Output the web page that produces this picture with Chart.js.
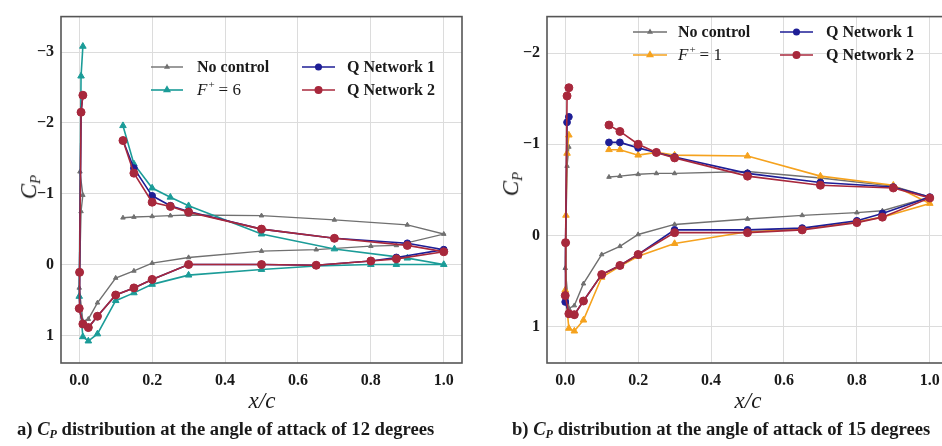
<!DOCTYPE html>
<html>
<head>
<meta charset="utf-8">
<script src="https://cdn.jsdelivr.net/npm/chart.js@4.4.0/dist/chart.umd.min.js"></script>
<style>
  html, body { margin: 0; padding: 0; background: #fff; }
  body { width: 942px; height: 446px; overflow: hidden; position: relative;
         font-family: "Liberation Serif", "DejaVu Serif", serif; color: #1a1a1a; }
  .box { position: absolute; top: 0; height: 446px; }
  #boxA { left: 0; width: 470px; }
  #boxB { left: 470px; width: 486px; }
  .xt { position: absolute; top: 388px; font-style: italic; font-size: 23px; transform: translateX(-50%); white-space: nowrap; }
  .yt { position: absolute; font-style: italic; font-size: 23px; transform: translate(-50%, -50%) rotate(-90deg); white-space: nowrap; }
  .cap { position: absolute; top: 418px; font-weight: bold; font-size: 18.6px; white-space: nowrap; }
  sub { font-size: 65%; vertical-align: -0.25em; }
</style>
</head>
<body>
<div class="box" id="boxA"><canvas id="chartA" width="470" height="446"></canvas></div>
<div class="box" id="boxB"><canvas id="chartB" width="486" height="446"></canvas></div>

<div class="yt" style="left:30px; top:187px;">C<sub>P</sub></div>
<div class="yt" style="left:512px; top:184px;">C<sub>P</sub></div>
<div class="xt" style="left:262px;">x/c</div>
<div class="xt" style="left:748px;">x/c</div>
<div class="cap" style="left:17px;">a) <i>C<sub>P</sub></i> distribution at the angle of attack of 12 degrees</div>
<div class="cap" style="left:512px;">b) <i>C<sub>P</sub></i> distribution at the angle of attack of 15 degrees</div>

<script>
// chordwise stations: upper surface (0.12 -> TE), then lower surface (TE -> LE)
const upperX = [0.12, 0.15, 0.2, 0.25, 0.3, 0.5, 0.7, 0.9, 1.0];
const lowerX = [0.87, 0.8, 0.65, 0.5, 0.3, 0.2, 0.15, 0.1, 0.05, 0.025, 0.01, 0.0];

const xTicks = [0, 0.2, 0.4, 0.6, 0.8, 1.0];
const yTicks12 = [-3, -2, -1, 0, 1];
const yTicks15 = [-2, -1, 0, 1];

const names12 = ['No control', 'F+ = 6', 'Q Network 1', 'Q Network 2'];
const names15 = ['No control', 'F+ = 1', 'Q Network 1', 'Q Network 2'];

// ---- angle of attack 12 deg ----
const noCtrl12X = upperX.concat(lowerX, [0.005, 0.01, 0.002]);
const noCtrl12 = [-0.66, -0.67, -0.68, -0.69, -0.70, -0.69, -0.63, -0.56, -0.43,
                  -0.27, -0.26, -0.21, -0.19, -0.10, -0.02, 0.09, 0.19, 0.54, 0.77, 0.80, 0.33,
                  -0.75, -0.98, -1.31];
const fPlus6X = upperX.concat(lowerX, [0.005, 0.01]);
const fPlus6 = [-1.96, -1.42, -1.08, -0.95, -0.83, -0.43, -0.22, -0.09, 0.0,
                0.0, 0.0, 0.02, 0.07, 0.15, 0.28, 0.40, 0.51, 0.98, 1.08, 1.02, 0.45,
                -2.66, -3.08];
const qNet12X = upperX.concat(lowerX, [0.001, 0.005, 0.01]);
const qNet1_12 = [-1.75, -1.36, -0.97, -0.83, -0.75, -0.50, -0.37, -0.30, -0.21,
                  -0.10, -0.05, 0.01, 0.0, 0.0, 0.21, 0.33, 0.43, 0.73, 0.89, 0.84, 0.62,
                  0.11, -2.15, -2.39];
const qNet2_12 = [-1.75, -1.29, -0.88, -0.82, -0.74, -0.50, -0.37, -0.27, -0.18,
                  -0.08, -0.05, 0.01, 0.0, 0.0, 0.21, 0.33, 0.43, 0.73, 0.89, 0.84, 0.62,
                  0.11, -2.15, -2.39];

// ---- angle of attack 15 deg ----
const noCtrl15X = upperX.concat(lowerX, [0.005, 0.01]);
const noCtrl15 = [-0.64, -0.65, -0.67, -0.68, -0.68, -0.70, -0.63, -0.54, -0.42,
                  -0.27, -0.25, -0.22, -0.18, -0.12, -0.01, 0.12, 0.21, 0.53, 0.77, 0.80, 0.36,
                  -0.76, -0.97];
const fPlus1X = upperX.concat(lowerX, [0.002, 0.005, 0.01]);
const fPlus1 = [-0.94, -0.94, -0.88, -0.91, -0.88, -0.87, -0.65, -0.55, -0.35,
                -0.20, -0.15, -0.07, -0.04, 0.09, 0.23, 0.34, 0.46, 0.93, 1.05, 1.02, 0.60,
                -0.22, -0.90, -1.10];
const qNet15X = upperX.concat(lowerX, [0.001, 0.005, 0.01]);
const qNet1_15 = [-1.02, -1.02, -0.96, -0.91, -0.86, -0.68, -0.58, -0.53, -0.42,
                  -0.24, -0.16, -0.08, -0.06, -0.06, 0.21, 0.33, 0.43, 0.72, 0.87, 0.86, 0.73,
                  0.08, -1.24, -1.30];
const qNet2_15 = [-1.21, -1.14, -1.00, -0.91, -0.85, -0.65, -0.55, -0.52, -0.41,
                  -0.20, -0.14, -0.06, -0.03, -0.03, 0.21, 0.33, 0.43, 0.72, 0.87, 0.86, 0.66,
                  0.08, -1.53, -1.62];

const GRAY = '#707070', TEAL = '#1b9c98', ORANGE = '#f5a21e', BLUE = '#1e1e96', RED = '#a8283c';
const FONT = '"Liberation Serif", "DejaVu Serif", serif';

function pts(xs, ys) {
  return xs.map((x, i) => ({ x: x, y: ys[i] }));
}

function series(label, xs, ys, color, style, radius, order, width) {
  return {
    label: label,
    data: pts(xs, ys),
    showLine: true,
    borderColor: color,
    backgroundColor: color,
    borderWidth: width,
    pointStyle: style,
    pointRadius: radius,
    pointBorderWidth: 1,
    pointBorderColor: color,
    pointBackgroundColor: color,
    order: order
  };
}

// full box around the plot area
const framePlugin = {
  id: 'frame',
  beforeDatasetsDraw(chart) {
    const a = chart.chartArea, ctx = chart.ctx;
    ctx.save();
    ctx.strokeStyle = '#555';
    ctx.lineWidth = 1.6;
    ctx.strokeRect(a.left, a.top, a.right - a.left, a.bottom - a.top);
    ctx.restore();
  }
};

// two-column legend drawn inside the axes
const legendPlugin = {
  id: 'cpLegend',
  afterDraw(chart) {
    const o = chart.options.plugins.cpLegend;
    const ctx = chart.ctx;
    o.order.forEach((di, k) => {
      const ds = chart.data.datasets[di];
      const col = o.cols[Math.floor(k / 2)];
      const y = o.rows[k % 2];
      ctx.save();
      ctx.strokeStyle = ds.borderColor;
      ctx.fillStyle = ds.backgroundColor;
      ctx.lineWidth = ds.borderWidth;
      ctx.beginPath();
      ctx.moveTo(col.x0, y);
      ctx.lineTo(col.x1, y);
      ctx.stroke();
      Chart.helpers.drawPoint(ctx, { pointStyle: ds.pointStyle, radius: ds.pointRadius * 0.8, rotation: 0, borderWidth: 1 },
        (col.x0 + col.x1) / 2, y);
      ctx.fillStyle = '#1a1a1a';
      ctx.textBaseline = 'middle';
      ctx.textAlign = 'left';
      if (ds.label.startsWith('F+')) {
        let x = col.tx;
        ctx.font = 'italic 17px ' + FONT;
        ctx.fillText('F', x, y + 1);
        x += ctx.measureText('F').width + 1;
        ctx.font = '11px ' + FONT;
        ctx.fillText('+', x, y - 5);
        x += ctx.measureText('+').width + 4;
        ctx.font = '17px ' + FONT;
        ctx.fillText('= ' + ds.label.split('=')[1].trim(), x, y + 1);
      } else {
        ctx.font = 'bold 16px ' + FONT;
        ctx.fillText(ds.label, col.tx, y + 1);
      }
      ctx.restore();
    });
  }
};

function makeChart(id, datasets, yMin, yMax, yTicks, yWidth, legend) {
  const ctx = document.getElementById(id).getContext('2d');
  return new Chart(ctx, {
    type: 'scatter',
    data: { datasets: datasets },
    plugins: [framePlugin, legendPlugin],
    options: {
      responsive: false,
      devicePixelRatio: 1,
      animation: false,
      layout: { padding: { top: 10, right: 8, left: 0, bottom: 0 } },
      plugins: {
        legend: { display: false },
        tooltip: { enabled: false },
        cpLegend: legend
      },
      scales: {
        x: {
          type: 'linear',
          min: -0.05,
          max: 1.05,
          afterBuildTicks: s => { s.ticks = xTicks.map(v => ({ value: v })); },
          afterFit: s => { s.height = 446 - 363; },
          grid: { color: '#dcdcdc', lineWidth: 1, drawTicks: false },
          border: { display: false },
          ticks: {
            padding: 8,
            color: '#1a1a1a',
            font: { family: FONT, size: 16, weight: 'bold' },
            callback: v => v.toFixed(1)
          }
        },
        y: {
          type: 'linear',
          reverse: true,
          min: yMin,
          max: yMax,
          afterBuildTicks: s => { s.ticks = yTicks.map(v => ({ value: v })); },
          afterFit: s => { s.width = yWidth; },
          grid: { color: '#dcdcdc', lineWidth: 1, drawTicks: false },
          border: { display: false },
          ticks: {
            padding: 7,
            color: '#1a1a1a',
            font: { family: FONT, size: 16, weight: 'bold' },
            callback: v => (v < 0 ? '\u2212' + Math.abs(v) : String(v))
          }
        }
      }
    }
  });
}

makeChart('chartA', [
  series(names12[0], noCtrl12X, noCtrl12, GRAY, 'triangle', 2.6, 3, 1.4),
  series(names12[1], fPlus6X, fPlus6, TEAL, 'triangle', 3.8, 2, 1.6),
  series(names12[2], qNet12X, qNet1_12, BLUE, 'circle', 3.4, 1, 1.6),
  series(names12[3], qNet12X, qNet2_12, RED, 'circle', 4, 0, 1.6)
], -3.5, 1.39, yTicks12, 61, {
  order: [0, 1, 2, 3],
  cols: [{ x0: 151, x1: 183, tx: 197 }, { x0: 302, x1: 335, tx: 347 }],
  rows: [67, 90]
});

makeChart('chartB', [
  series(names15[0], noCtrl15X, noCtrl15, GRAY, 'triangle', 2.6, 3, 1.4),
  series(names15[1], fPlus1X, fPlus1, ORANGE, 'triangle', 3.8, 2, 1.6),
  series(names15[2], qNet15X, qNet1_15, BLUE, 'circle', 3.4, 1, 1.6),
  series(names15[3], qNet15X, qNet2_15, RED, 'circle', 4, 0, 1.6)
], -2.4, 1.4, yTicks15, 77, {
  order: [0, 1, 2, 3],
  cols: [{ x0: 163, x1: 197, tx: 208 }, { x0: 310, x1: 343, tx: 356 }],
  rows: [32, 55]
});
</script>
</body>
</html>
